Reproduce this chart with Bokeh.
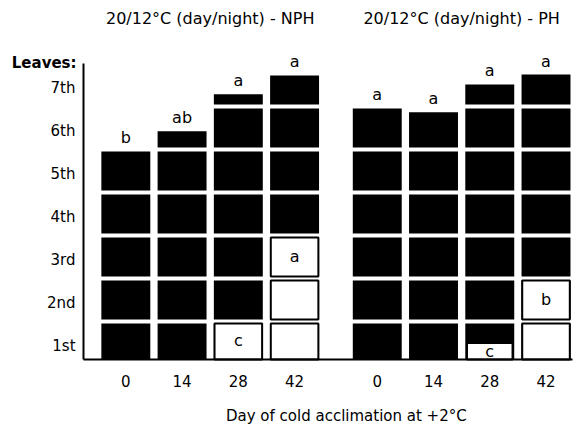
import math
from bokeh.plotting import figure
from bokeh.models import Label, FixedTicker, ColumnDataSource, Range1d, LinearAxis
from bokeh.embed import file_html
from bokeh.resources import INLINE
from bokeh.core.properties import value

# ---- data ----
days = ["0", "14", "28", "42"]
group_titles = ["20/12°C (day/night) - NPH", "20/12°C (day/night) - PH"]
leaf_labels = ["1st", "2nd", "3rd", "4th", "5th", "6th", "7th"]
nph_leaves = [5.0, 5.47, 6.33, 6.77]          # total leaf number
ph_leaves = [6.0, 5.91, 6.56, 6.79]
nph_senesced = [0.0, 0.0, 1.0, 3.0]           # senesced (white) leaves from the bottom
ph_senesced = [0.0, 0.0, 0.5, 2.0]
nph_letters = ["b", "ab", "a", "a"]           # letters above bars (leaf number)
ph_letters = ["a", "a", "a", "a"]
nph_sen_letters = ["", "", "c", "a"]          # letters inside white boxes
ph_sen_letters = ["", "", "c", "b"]
x_title = "Day of cold acclimation at +2°C"
y_title = "Leaves:"

FONT = "DejaVu Sans"
group_offset = 4.47
bar_w = 0.87
ax_x0, ax_x1 = -0.752, 7.94      # extent of the x axis line
ax_y0, ax_y1 = 0.116, 7.0        # extent of the y axis line
gap = 2.0 / 43.0                 # half white gap between leaf segments

groups = [
    (nph_leaves, nph_senesced, nph_letters, nph_sen_letters),
    (ph_leaves, ph_senesced, ph_letters, ph_sen_letters),
]

p = figure(width=576, height=433, output_backend="svg", toolbar_location=None,
           x_range=Range1d(-2.228, 8.012), y_range=Range1d(-1.605, 8.465),
           x_axis_location=None, y_axis_location=None,
           min_border_left=0, min_border_right=0, min_border_top=0, min_border_bottom=0)
p.outline_line_color = None
p.background_fill_color = "white"
p.grid.grid_line_color = None

blk = dict(l=[], r=[], b=[], t=[])
wht = dict(l=[], r=[], b=[], t=[])
top_lab = dict(x=[], y=[], text=[])
in_lab = dict(x=[], y=[], text=[])
xticks = []
xover = {}

for g, (leaves, sen, letters, sen_letters) in enumerate(groups):
    for i, d in enumerate(days):
        x = round(i + g * group_offset, 2)
        xticks.append(x)
        xover[x] = d
        total = leaves[i]
        left, right = x - bar_w / 2, x + bar_w / 2
        n = math.ceil(total - 1e-9)
        for k in range(1, n + 1):
            blk["l"].append(left); blk["r"].append(right)
            blk["b"].append(max(k - 1 + gap, ax_y0)); blk["t"].append(min(k, total) - gap)
        s = sen[i]
        if s > 0:
            ns = math.ceil(s - 1e-9)
            for k in range(1, ns + 1):
                full = s >= k
                inset = 0.012 if full else 0.03
                wht["l"].append(left + inset); wht["r"].append(right - inset)
                wht["b"].append(max(k - 1 + gap, ax_y0))
                wht["t"].append(k - gap if full else s)
            if sen_letters[i]:
                in_lab["x"].append(x)
                in_lab["y"].append((max(ns - 1, ax_y0) + s) / 2)
                in_lab["text"].append(sen_letters[i])
        top_lab["x"].append(x)
        top_lab["y"].append(total)
        top_lab["text"].append(letters[i])

p.quad(left="l", right="r", bottom="b", top="t", source=ColumnDataSource(blk),
       fill_color="black", line_color=None)
p.quad(left="l", right="r", bottom="b", top="t", source=ColumnDataSource(wht),
       fill_color="white", line_color="black", line_width=2)

p.text(x="x", y="y", text="text", source=ColumnDataSource(top_lab),
       text_align="center", text_baseline="bottom", y_offset=-2,
       text_font=value(FONT), text_font_size="16px", text_color="black")
p.text(x="x", y="y", text="text", source=ColumnDataSource(in_lab),
       text_align="center", text_baseline="middle",
       text_font=value(FONT), text_font_size="16px", text_color="black")

# axes placed inside the frame at fixed locations
yt = [round(k - 0.58, 2) for k in range(1, 8)]
yaxis = LinearAxis(fixed_location=ax_x0, bounds=(ax_y0, ax_y1),
                   ticker=FixedTicker(ticks=yt),
                   major_label_overrides={t: lab for t, lab in zip(yt, leaf_labels)})
xaxis = LinearAxis(fixed_location=ax_y0, bounds=(ax_x0, ax_x1),
                   ticker=FixedTicker(ticks=xticks), major_label_overrides=xover)
for ax in (xaxis, yaxis):
    ax.major_tick_line_color = None
    ax.minor_tick_line_color = None
    ax.major_tick_out = 0
    ax.major_tick_in = 0
    ax.minor_tick_out = 0
    ax.minor_tick_in = 0
    ax.axis_line_color = "black"
    ax.axis_line_width = 2
    ax.major_label_text_font = FONT
    ax.major_label_text_font_size = "15px"
    ax.major_label_text_color = "black"
yaxis.major_label_standoff = 8
xaxis.major_label_standoff = 16
p.add_layout(yaxis, "left")
p.add_layout(xaxis, "below")

# titles and labels
for g, t in enumerate(group_titles):
    p.add_layout(Label(x=1.5 + g * group_offset, y=8.05, text=t, text_align="center",
                       text_baseline="middle", text_font=FONT, text_font_size="16px",
                       text_color="black"))
p.add_layout(Label(x=ax_x0, y=ax_y1, x_offset=-7, text=y_title, text_align="right",
                   text_baseline="middle", text_font=FONT, text_font_size="15px",
                   text_font_style="bold", text_color="black"))
p.add_layout(Label(x=3.92, y=-1.19, text=x_title,
                   text_align="center", text_baseline="middle", text_font=FONT,
                   text_font_size="15px", text_color="black"))

open("out.html", "w").write(file_html(p, INLINE))
